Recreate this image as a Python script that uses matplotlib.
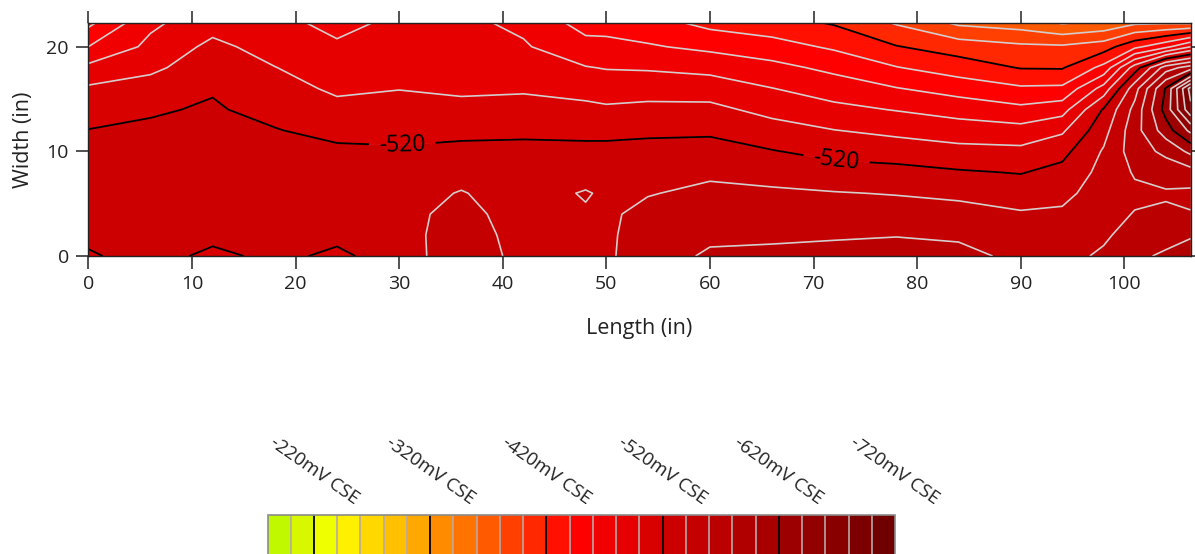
import numpy as np
import matplotlib
matplotlib.use('Agg')
import matplotlib.pyplot as plt

plt.rcParams['font.family'] = ['Open Sans', 'DejaVu Sans']
plt.rcParams['contour.negative_linestyle'] = 'solid'

# grid node positions (inches)
length_in = [0, 6, 12, 18, 24, 30, 36, 42, 48, 50, 54, 60, 66, 72, 78, 84, 90, 94, 98, 101, 104, 106.4]
width_in = [0, 2, 4, 6, 8, 10, 12, 14, 16, 18, 20, 22.3]

# potential (mV CSE) per column of length, listed from width 0 upward
col_0 = [-517, -526, -527, -528, -527, -524, -520.5, -512, -503, -485, -460, -435]
col_6 = [-530, -530, -530, -529, -528, -526, -523, -518, -508, -496, -485, -476]
col_12 = [-514, -527, -528, -528, -528, -527, -525, -522, -518.5, -511, -505, -492]
col_18 = [-526, -528, -529, -529, -528, -526, -521, -514, -507, -500.5, -492, -484]
col_24 = [-515, -526, -530, -531, -530, -524, -514, -505, -497, -489, -482, -476]
col_30 = [-532, -534, -535, -533, -530, -522, -515, -507, -499.5, -493, -488, -483]
col_36 = [-550, -548, -545, -541, -534, -524, -516, -505, -497, -491, -487, -484]
col_42 = [-535, -534, -533, -532, -529, -524, -517, -506, -498, -490, -482, -476]
col_48 = [-537, -537, -538, -541.5, -532, -525, -515, -505, -493, -481, -467, -452]
col_50 = [-537, -537, -537, -537, -531, -525, -515, -503, -491, -479, -466, -452]
col_54 = [-550, -548, -545, -539, -532, -525, -517, -505, -492, -478, -462, -448]
col_60 = [-563, -556, -550, -544, -537, -527, -517, -505, -491, -474, -455.5, -434]
col_66 = [-564, -557, -550, -543, -533, -521, -508, -494, -480.5, -466, -448, -428]
col_72 = [-566, -558, -550, -541, -528, -514, -500.5, -485, -471, -455, -437, -418]
col_78 = [-570, -559, -549, -539, -526, -511, -495, -479, -461, -441, -421, -398]
col_84 = [-566, -557, -547, -536, -522, -506, -490, -472, -452, -430, -411, -376]
col_90 = [-555, -550, -542, -531, -519, -505, -487, -465, -443, -419, -404, -370]
col_94 = [-554, -549, -543, -535, -526, -514, -497, -472, -444, -418.5, -403, -358]
col_98 = [-563, -557, -553, -549, -546, -542, -533, -522, -488, -446, -411, -364]
col_101 = [-576, -568, -561, -556, -562, -570, -572, -566, -552, -510, -435, -376]
col_104 = [-583, -573, -563, -558, -568, -585, -610, -628, -622, -570, -455, -377]
col_106 = [-590, -578, -561, -556, -572, -605, -645, -695, -708, -590, -480, -376]

columns = [col_0, col_6, col_12, col_18, col_24, col_30, col_36, col_42, col_48, col_50,
           col_54, col_60, col_66, col_72, col_78, col_84, col_90, col_94, col_98,
           col_101, col_104, col_106]

# contour levels (mV) and band colours, ascending from -720 to -180
levels = list(range(-720, -179, 20))
band_colors = ['#700000', '#7c0000', '#880000', '#920000', '#9c0000', '#a80000', '#b00000',
               '#ba0000', '#c40000', '#cc0000', '#d90000', '#e60000', '#f00000', '#ff0000',
               '#ff1000', '#ff2800', '#ff4000', '#ff5a00', '#ff7400', '#ff8c00', '#ffa800',
               '#ffc000', '#ffd800', '#fff000', '#f0ff00', '#d8f800', '#c0f800']
legend_levels = [-220, -320, -420, -520, -620, -720]
labelled_level = -520

Z = np.array(columns).T

fig = plt.figure(figsize=(11.95, 5.54), dpi=100)
ax = fig.add_axes([88.3 / 1195, 1 - 256 / 554, (1190.7 - 88.3) / 1195, (256 - 22.7) / 554])

cf = ax.contourf(length_in, width_in, Z, levels=levels, colors=band_colors, antialiased=True)
cf.set_edgecolor('face')
cf.set_linewidth(0.4)

major = [lv for lv in levels if (lv + 20) % 100 == 0]
other_levels = [lv for lv in levels if lv != labelled_level]
line_colors = ['black' if lv in major else '#d6cccc' for lv in other_levels]
line_widths = [1.3 if lv in major else 1.2 for lv in other_levels]
cs = ax.contour(length_in, width_in, Z, levels=other_levels, colors=line_colors,
                linewidths=line_widths, linestyles='solid')
cs_lab = ax.contour(length_in, width_in, Z, levels=[labelled_level], colors='black',
                    linewidths=1.3, linestyles='solid')
ax.clabel(cs_lab, manual=[(30.3, 10.6), (72.2, 9.2)], fmt='%d',
          fontsize=16.5, inline=True, inline_spacing=10)

ax.set_xlim(0, 106.4)
ax.set_ylim(0, 22.3)
ax.set_xticks(range(0, 101, 10))
ax.set_yticks([0, 10, 20])
ax.tick_params(axis='both', which='both', direction='out', length=9, width=1.2,
               color='#333333', labelsize=14, pad=5, top=True, right=True,
               labeltop=False, labelright=False, labelcolor='#222222')
for s in ax.spines.values():
    s.set_color('#222222')
    s.set_linewidth(1.0)
ax.set_xlabel('Length (in)', fontsize=15.5, labelpad=18, color='#222222')
ax.set_ylabel('Width (in)', fontsize=15.5, labelpad=9, color='#222222')

# colour scale
cax = fig.add_axes([267.5 / 1195, -0.06, 627.5 / 1195, 39 / 554 + 0.06])
cb = fig.colorbar(cf, cax=cax, orientation='horizontal')
cax.invert_xaxis()
cb.set_ticks(legend_levels)
cb.set_ticklabels([f'{v}mV CSE' for v in legend_levels])
cax.xaxis.set_ticks_position('top')
cax.tick_params(axis='x', length=0, pad=5, labelsize=13.5, labelrotation=-35, colors='#222222')
for lbl in cax.get_xticklabels():
    lbl.set_horizontalalignment('center')
    lbl.set_verticalalignment('bottom')
for lv in levels[1:-1]:
    cax.axvline(lv, color='black' if lv in major else '#b8a8a8', lw=1.3 if lv in major else 1.2)
cb.outline.set_edgecolor('#8a8a8a')
cb.outline.set_linewidth(1.2)

fig.savefig('out.png', dpi=100)
